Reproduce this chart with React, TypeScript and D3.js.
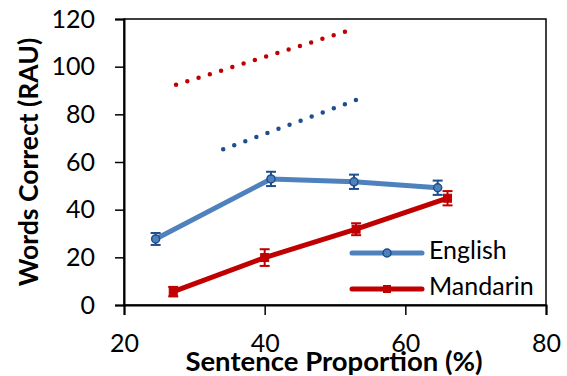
import React, { useEffect, useRef } from "react";
import * as d3 from "d3";

const proportionEnglish = [24.5, 40.9, 52.7, 64.6];
const correctEnglish = [27.7, 52.9, 51.7, 49.2];
const errEnglish = [2.5, 3, 3, 3];

const proportionMandarin = [27.0, 40.0, 53.0, 66.0];
const correctMandarin = [5.6, 19.9, 31.8, 44.8];
const errMandarin = [2, 3.5, 2.5, 3];

// fitted trend lines (dotted), start and end points
const trendEnglishX = [34.1, 53.0];
const trendEnglishY = [65.3, 86.0];
const trendMandarinX = [27.4, 53.0];
const trendMandarinY = [92.4, 116.1];

const xTicks = [20, 40, 60, 80];
const yTicks = [0, 20, 40, 60, 80, 100, 120];
const seriesNames = ["English", "Mandarin"];

const W = 567;
const H = 376;
const margin = { top: 19, right: 21, bottom: 71, left: 124 };
const font = "Lato, 'Noto Sans', sans-serif";

const BLUE_LINE = "#4f81bd";
const BLUE_DARK = "#1f4e8c";
const RED = "#c00000";

const draw = (node: SVGSVGElement) => {
  const width = W - margin.left - margin.right;
  const height = H - margin.top - margin.bottom;
  const x = d3.scaleLinear().domain([20, 80]).range([0, width]);
  const y = d3.scaleLinear().domain([0, 120]).range([height, 0]);

  const svg = d3.select(node);
  svg.selectAll("*").remove();
  const g = svg
    .append("g")
    .attr("transform", "translate(" + margin.left + "," + margin.top + ")");

  // frame
  g.append("rect")
    .attr("width", width)
    .attr("height", height)
    .attr("fill", "none")
    .attr("stroke", "#000")
    .attr("stroke-width", 1.5);

  const yAxis = g
    .append("g")
    .call(d3.axisLeft(y).tickValues(yTicks).tickSize(9).tickFormat(d3.format("d")));
  yAxis.select(".domain").attr("stroke-width", 2);
  yAxis.selectAll("line").attr("stroke-width", 1.5);
  yAxis
    .selectAll("text")
    .attr("x", -29)
    .style("font-family", font)
    .style("font-size", "25px")
    .attr("fill", "#000");

  const xAxis = g
    .append("g")
    .attr("transform", "translate(0," + height + ")")
    .call(d3.axisBottom(x).tickValues(xTicks).tickSize(10).tickFormat(d3.format("d")));
  xAxis.select(".domain").attr("stroke-width", 2);
  xAxis.selectAll("line").attr("stroke-width", 1.5);
  xAxis
    .selectAll("text")
    .attr("y", 29)
    .style("font-family", font)
    .style("font-size", "25px")
    .attr("fill", "#000");

  // dotted trend lines
  const trend = (xs: number[], ys: number[], color: string) => {
    g.append("line")
      .attr("x1", x(xs[0]))
      .attr("y1", y(ys[0]))
      .attr("x2", x(xs[1]))
      .attr("y2", y(ys[1]))
      .attr("stroke", color)
      .attr("stroke-width", 4.5)
      .attr("stroke-linecap", "round")
      .attr("stroke-dasharray", "0 11.8");
  };
  trend(trendMandarinX, trendMandarinY, RED);
  trend(trendEnglishX, trendEnglishY, BLUE_DARK);

  const line = d3
    .line<[number, number]>()
    .x(d => x(d[0]))
    .y(d => y(d[1]));

  const series = [
    { xs: proportionEnglish, ys: correctEnglish, err: errEnglish, line: BLUE_LINE, mark: BLUE_DARK, shape: "circle" },
    { xs: proportionMandarin, ys: correctMandarin, err: errMandarin, line: RED, mark: RED, shape: "square" }
  ];

  series.forEach(s => {
    const pts = s.xs.map((v, i) => [v, s.ys[i]] as [number, number]);
    g.append("path")
      .attr("d", line(pts))
      .attr("fill", "none")
      .attr("stroke", s.line)
      .attr("stroke-width", 5)
      .attr("stroke-linejoin", "round");

    pts.forEach((p, i) => {
      const cx = x(p[0]);
      const top = y(p[1] + s.err[i]);
      const bot = y(p[1] - s.err[i]);
      const eb = g.append("g").attr("stroke", s.mark).attr("stroke-width", 2);
      eb.append("line").attr("x1", cx).attr("x2", cx).attr("y1", top).attr("y2", bot);
      eb.append("line").attr("x1", cx - 5).attr("x2", cx + 5).attr("y1", top).attr("y2", top);
      eb.append("line").attr("x1", cx - 5).attr("x2", cx + 5).attr("y1", bot).attr("y2", bot);
      if (s.shape === "circle") {
        g.append("circle")
          .attr("cx", cx)
          .attr("cy", y(p[1]))
          .attr("r", 4)
          .attr("fill", BLUE_LINE)
          .attr("stroke", BLUE_DARK)
          .attr("stroke-width", 1.5);
      } else {
        g.append("rect")
          .attr("x", cx - 4)
          .attr("y", y(p[1]) - 4)
          .attr("width", 8)
          .attr("height", 8)
          .attr("fill", RED)
          .attr("stroke", RED);
      }
    });
  });

  // legend
  const legend = svg.append("g");
  series.forEach((s, i) => {
    const ly = 253 + i * 36;
    legend
      .append("line")
      .attr("x1", 352)
      .attr("x2", 422)
      .attr("y1", ly)
      .attr("y2", ly)
      .attr("stroke", s.line)
      .attr("stroke-width", 5)
      .attr("stroke-linecap", "round");
    if (s.shape === "circle") {
      legend
        .append("circle")
        .attr("cx", 387)
        .attr("cy", ly)
        .attr("r", 4)
        .attr("fill", BLUE_LINE)
        .attr("stroke", BLUE_DARK)
        .attr("stroke-width", 1.5);
    } else {
      legend
        .append("rect")
        .attr("x", 383)
        .attr("y", ly - 4)
        .attr("width", 8)
        .attr("height", 8)
        .attr("fill", RED);
    }
    legend
      .append("text")
      .attr("x", 429)
      .attr("y", ly + 6)
      .style("font-family", font)
      .style("font-size", "25px")
      .text(seriesNames[i]);
  });

  svg
    .append("text")
    .attr("transform", "translate(38," + (margin.top + height / 2) + ") rotate(-90)")
    .attr("text-anchor", "middle")
    .style("font-family", font)
    .style("font-size", "26.5px")
    .style("font-weight", "bold")
    .text("Words Correct (RAU)");

  svg
    .append("text")
    .attr("x", 334)
    .attr("y", 371)
    .attr("text-anchor", "middle")
    .style("font-family", font)
    .style("font-size", "27.5px")
    .style("font-weight", "bold")
    .text("Sentence Proportion (%)");
};

const App = () => {
  const ref = useRef<SVGSVGElement>(null);
  useEffect(() => {
    if (ref.current) draw(ref.current);
  }, []);
  return (
    <svg
      ref={ref}
      width={W}
      height={H}
      style={{ position: "absolute", left: 0, top: 0, background: "#fff" }}
    />
  );
};

export default App;
